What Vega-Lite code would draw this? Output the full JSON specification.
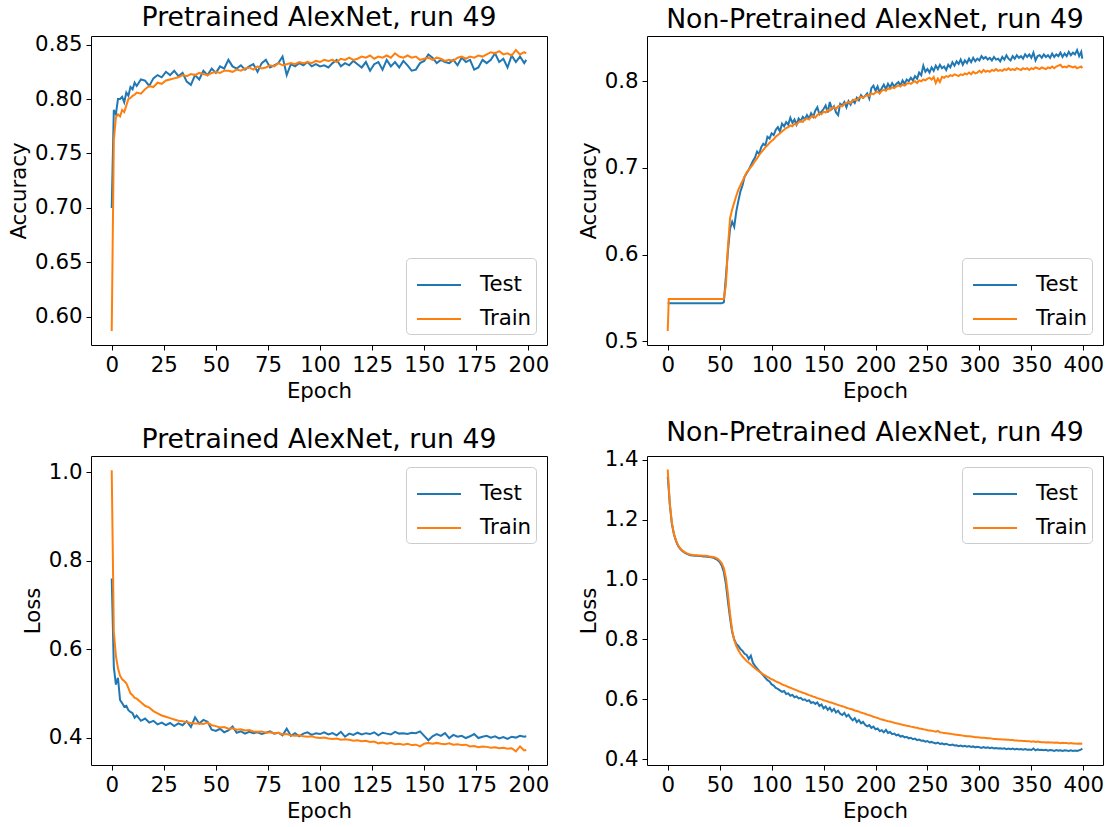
{
"$schema":"https://vega.github.io/schema/vega-lite/v6.json",
"padding":{"left":8,"top":4,"right":4,"bottom":4},
"background":"white",
"bounds":"flush",
"columns":2,
"spacing":{"row":111,"column":100},
"config":{
"font":"DejaVu Sans",
"view":{"stroke":"black","strokeWidth":1},
"axis":{"labelFont":"DejaVu Sans","labelFontSize":21.3,"labelColor":"black","titleFont":"DejaVu Sans","titleFontSize":21.3,"titleFontWeight":"normal","titleColor":"black","tickColor":"black","tickSize":5,"tickWidth":1,"domain":false,"grid":false,"labelPadding":4,"titlePadding":5,"labelFlush":false,"labelOverlap":false},
"title":{"font":"DejaVu Sans","fontSize":26.7,"fontWeight":"normal","color":"black","offset":2},
"legend":{"labelFont":"DejaVu Sans","labelFontSize":21.3,"labelColor":"black","symbolType":"stroke","symbolStrokeWidth":2,"symbolSize":1936,"fillColor":"rgba(255,255,255,0.8)","strokeColor":"#cccccc","cornerRadius":4,"padding":4,"offset":11,"labelOffset":18,"symbolOffset":6,"rowPadding":0}
},
"datasets":{
"p":[
{"e":0,"ta":0.700,"ra":0.587,"tl":0.760,"rl":1.005},
{"e":1,"ta":0.790,"ra":0.762,"tl":0.560,"rl":0.640},
{"e":2,"ta":0.786,"ra":0.783,"tl":0.520,"rl":0.585},
{"e":3,"ta":0.800,"ra":0.786,"tl":0.535,"rl":0.557},
{"e":4,"ta":0.800,"ra":0.784,"tl":0.485,"rl":0.540},
{"e":5,"ta":0.802,"ra":0.790,"tl":0.478,"rl":0.532},
{"e":6,"ta":0.797,"ra":0.788,"tl":0.470,"rl":0.528},
{"e":7,"ta":0.806,"ra":0.794,"tl":0.472,"rl":0.523},
{"e":8,"ta":0.803,"ra":0.800,"tl":0.462,"rl":0.512},
{"e":9,"ta":0.811,"ra":0.801,"tl":0.458,"rl":0.500},
{"e":10,"ta":0.809,"ra":0.803,"tl":0.455,"rl":0.496},
{"e":11,"ta":0.815,"ra":0.804,"tl":0.445,"rl":0.490},
{"e":12,"ta":0.812,"ra":0.806,"tl":0.450,"rl":0.488},
{"e":14,"ta":0.818,"ra":0.805,"tl":0.438,"rl":0.480},
{"e":16,"ta":0.817,"ra":0.809,"tl":0.443,"rl":0.472},
{"e":18,"ta":0.812,"ra":0.812,"tl":0.434,"rl":0.468},
{"e":20,"ta":0.819,"ra":0.811,"tl":0.438,"rl":0.460},
{"e":22,"ta":0.822,"ra":0.815,"tl":0.430,"rl":0.455},
{"e":24,"ta":0.820,"ra":0.814,"tl":0.434,"rl":0.450},
{"e":26,"ta":0.825,"ra":0.817,"tl":0.428,"rl":0.447},
{"e":28,"ta":0.822,"ra":0.818,"tl":0.433,"rl":0.444},
{"e":30,"ta":0.826,"ra":0.819,"tl":0.426,"rl":0.441},
{"e":32,"ta":0.821,"ra":0.820,"tl":0.432,"rl":0.438},
{"e":34,"ta":0.824,"ra":0.822,"tl":0.428,"rl":0.437},
{"e":36,"ta":0.816,"ra":0.821,"tl":0.437,"rl":0.435},
{"e":38,"ta":0.813,"ra":0.823,"tl":0.424,"rl":0.433},
{"e":40,"ta":0.822,"ra":0.822,"tl":0.446,"rl":0.432},
{"e":42,"ta":0.818,"ra":0.824,"tl":0.432,"rl":0.432},
{"e":44,"ta":0.826,"ra":0.823,"tl":0.440,"rl":0.431},
{"e":46,"ta":0.822,"ra":0.822,"tl":0.436,"rl":0.434},
{"e":48,"ta":0.828,"ra":0.824,"tl":0.418,"rl":0.428},
{"e":50,"ta":0.824,"ra":0.825,"tl":0.415,"rl":0.426},
{"e":52,"ta":0.830,"ra":0.824,"tl":0.420,"rl":0.423},
{"e":54,"ta":0.828,"ra":0.826,"tl":0.412,"rl":0.424},
{"e":56,"ta":0.836,"ra":0.826,"tl":0.416,"rl":0.420},
{"e":58,"ta":0.830,"ra":0.825,"tl":0.425,"rl":0.421},
{"e":60,"ta":0.828,"ra":0.827,"tl":0.411,"rl":0.418},
{"e":62,"ta":0.831,"ra":0.826,"tl":0.414,"rl":0.419},
{"e":64,"ta":0.827,"ra":0.828,"tl":0.409,"rl":0.416},
{"e":66,"ta":0.830,"ra":0.829,"tl":0.413,"rl":0.417},
{"e":68,"ta":0.832,"ra":0.827,"tl":0.410,"rl":0.414},
{"e":70,"ta":0.825,"ra":0.830,"tl":0.412,"rl":0.413},
{"e":72,"ta":0.833,"ra":0.828,"tl":0.408,"rl":0.414},
{"e":74,"ta":0.836,"ra":0.829,"tl":0.411,"rl":0.411},
{"e":76,"ta":0.829,"ra":0.831,"tl":0.414,"rl":0.412},
{"e":78,"ta":0.831,"ra":0.830,"tl":0.409,"rl":0.410},
{"e":80,"ta":0.833,"ra":0.833,"tl":0.411,"rl":0.411},
{"e":82,"ta":0.839,"ra":0.831,"tl":0.405,"rl":0.407},
{"e":84,"ta":0.822,"ra":0.832,"tl":0.420,"rl":0.408},
{"e":86,"ta":0.832,"ra":0.833,"tl":0.404,"rl":0.405},
{"e":88,"ta":0.830,"ra":0.832,"tl":0.410,"rl":0.404},
{"e":90,"ta":0.833,"ra":0.834,"tl":0.403,"rl":0.405},
{"e":92,"ta":0.831,"ra":0.833,"tl":0.409,"rl":0.403},
{"e":94,"ta":0.834,"ra":0.834,"tl":0.412,"rl":0.402},
{"e":96,"ta":0.830,"ra":0.833,"tl":0.406,"rl":0.403},
{"e":98,"ta":0.832,"ra":0.835,"tl":0.410,"rl":0.400},
{"e":100,"ta":0.830,"ra":0.834,"tl":0.408,"rl":0.399},
{"e":102,"ta":0.831,"ra":0.836,"tl":0.412,"rl":0.400},
{"e":104,"ta":0.829,"ra":0.835,"tl":0.407,"rl":0.398},
{"e":106,"ta":0.833,"ra":0.836,"tl":0.410,"rl":0.397},
{"e":108,"ta":0.836,"ra":0.834,"tl":0.405,"rl":0.398},
{"e":110,"ta":0.830,"ra":0.837,"tl":0.413,"rl":0.395},
{"e":112,"ta":0.833,"ra":0.836,"tl":0.402,"rl":0.396},
{"e":114,"ta":0.831,"ra":0.838,"tl":0.409,"rl":0.395},
{"e":116,"ta":0.835,"ra":0.836,"tl":0.406,"rl":0.393},
{"e":118,"ta":0.832,"ra":0.837,"tl":0.411,"rl":0.394},
{"e":120,"ta":0.829,"ra":0.839,"tl":0.407,"rl":0.392},
{"e":122,"ta":0.834,"ra":0.838,"tl":0.410,"rl":0.393},
{"e":124,"ta":0.826,"ra":0.840,"tl":0.408,"rl":0.390},
{"e":126,"ta":0.832,"ra":0.837,"tl":0.412,"rl":0.391},
{"e":128,"ta":0.834,"ra":0.839,"tl":0.405,"rl":0.387},
{"e":130,"ta":0.827,"ra":0.838,"tl":0.411,"rl":0.389},
{"e":132,"ta":0.836,"ra":0.840,"tl":0.409,"rl":0.386},
{"e":134,"ta":0.830,"ra":0.838,"tl":0.407,"rl":0.388},
{"e":136,"ta":0.834,"ra":0.842,"tl":0.413,"rl":0.385},
{"e":138,"ta":0.829,"ra":0.839,"tl":0.409,"rl":0.386},
{"e":140,"ta":0.835,"ra":0.838,"tl":0.410,"rl":0.384},
{"e":142,"ta":0.831,"ra":0.840,"tl":0.408,"rl":0.386},
{"e":144,"ta":0.826,"ra":0.838,"tl":0.411,"rl":0.383},
{"e":146,"ta":0.827,"ra":0.839,"tl":0.410,"rl":0.384},
{"e":148,"ta":0.833,"ra":0.836,"tl":0.414,"rl":0.380},
{"e":150,"ta":0.835,"ra":0.837,"tl":0.404,"rl":0.386},
{"e":152,"ta":0.841,"ra":0.838,"tl":0.394,"rl":0.388},
{"e":154,"ta":0.838,"ra":0.836,"tl":0.403,"rl":0.386},
{"e":156,"ta":0.833,"ra":0.838,"tl":0.408,"rl":0.388},
{"e":158,"ta":0.836,"ra":0.837,"tl":0.404,"rl":0.386},
{"e":160,"ta":0.834,"ra":0.835,"tl":0.410,"rl":0.385},
{"e":162,"ta":0.833,"ra":0.836,"tl":0.399,"rl":0.387},
{"e":164,"ta":0.836,"ra":0.835,"tl":0.406,"rl":0.384},
{"e":166,"ta":0.831,"ra":0.838,"tl":0.402,"rl":0.385},
{"e":168,"ta":0.838,"ra":0.839,"tl":0.404,"rl":0.383},
{"e":170,"ta":0.834,"ra":0.837,"tl":0.399,"rl":0.384},
{"e":172,"ta":0.836,"ra":0.839,"tl":0.403,"rl":0.380},
{"e":174,"ta":0.827,"ra":0.838,"tl":0.408,"rl":0.381},
{"e":176,"ta":0.829,"ra":0.840,"tl":0.399,"rl":0.378},
{"e":178,"ta":0.836,"ra":0.839,"tl":0.402,"rl":0.380},
{"e":180,"ta":0.833,"ra":0.841,"tl":0.404,"rl":0.379},
{"e":182,"ta":0.836,"ra":0.843,"tl":0.400,"rl":0.377},
{"e":184,"ta":0.842,"ra":0.842,"tl":0.403,"rl":0.378},
{"e":186,"ta":0.834,"ra":0.844,"tl":0.398,"rl":0.376},
{"e":188,"ta":0.837,"ra":0.841,"tl":0.401,"rl":0.377},
{"e":190,"ta":0.829,"ra":0.842,"tl":0.397,"rl":0.375},
{"e":192,"ta":0.840,"ra":0.840,"tl":0.402,"rl":0.376},
{"e":194,"ta":0.834,"ra":0.845,"tl":0.400,"rl":0.369},
{"e":196,"ta":0.839,"ra":0.841,"tl":0.404,"rl":0.380},
{"e":198,"ta":0.833,"ra":0.843,"tl":0.402,"rl":0.371},
{"e":199,"ta":0.836,"ra":0.842,"tl":0.403,"rl":0.372}
],
"n":[
{"e":0,"ta":0.544,"ra":0.512,"tl":1.343,"rl":1.367},
{"e":1,"ta":0.544,"ra":0.549,"tl":1.300,"rl":1.310},
{"e":2,"ta":0.544,"ra":0.549,"tl":1.250,"rl":1.255},
{"e":4,"ta":0.544,"ra":0.549,"tl":1.185,"rl":1.190},
{"e":6,"ta":0.544,"ra":0.549,"tl":1.150,"rl":1.152},
{"e":8,"ta":0.544,"ra":0.549,"tl":1.128,"rl":1.130},
{"e":10,"ta":0.544,"ra":0.549,"tl":1.112,"rl":1.114},
{"e":12,"ta":0.544,"ra":0.549,"tl":1.102,"rl":1.104},
{"e":14,"ta":0.544,"ra":0.549,"tl":1.095,"rl":1.097},
{"e":16,"ta":0.544,"ra":0.549,"tl":1.090,"rl":1.092},
{"e":18,"ta":0.544,"ra":0.549,"tl":1.086,"rl":1.088},
{"e":20,"ta":0.544,"ra":0.549,"tl":1.083,"rl":1.085},
{"e":22,"ta":0.544,"ra":0.549,"tl":1.081,"rl":1.083},
{"e":24,"ta":0.544,"ra":0.549,"tl":1.080,"rl":1.082},
{"e":26,"ta":0.544,"ra":0.549,"tl":1.079,"rl":1.081},
{"e":28,"ta":0.544,"ra":0.549,"tl":1.079,"rl":1.081},
{"e":30,"ta":0.544,"ra":0.549,"tl":1.078,"rl":1.080},
{"e":32,"ta":0.544,"ra":0.549,"tl":1.078,"rl":1.080},
{"e":34,"ta":0.544,"ra":0.549,"tl":1.077,"rl":1.079},
{"e":36,"ta":0.544,"ra":0.549,"tl":1.077,"rl":1.079},
{"e":38,"ta":0.544,"ra":0.549,"tl":1.076,"rl":1.078},
{"e":40,"ta":0.544,"ra":0.549,"tl":1.075,"rl":1.077},
{"e":42,"ta":0.544,"ra":0.549,"tl":1.074,"rl":1.076},
{"e":44,"ta":0.544,"ra":0.549,"tl":1.072,"rl":1.075},
{"e":46,"ta":0.544,"ra":0.549,"tl":1.069,"rl":1.073},
{"e":48,"ta":0.544,"ra":0.549,"tl":1.065,"rl":1.069},
{"e":50,"ta":0.544,"ra":0.549,"tl":1.058,"rl":1.063},
{"e":52,"ta":0.544,"ra":0.549,"tl":1.046,"rl":1.054},
{"e":54,"ta":0.545,"ra":0.549,"tl":1.025,"rl":1.038},
{"e":56,"ta":0.575,"ra":0.565,"tl":0.985,"rl":1.005},
{"e":58,"ta":0.605,"ra":0.610,"tl":0.925,"rl":0.950},
{"e":60,"ta":0.630,"ra":0.642,"tl":0.870,"rl":0.885},
{"e":62,"ta":0.638,"ra":0.652,"tl":0.825,"rl":0.830},
{"e":64,"ta":0.632,"ra":0.660,"tl":0.800,"rl":0.798},
{"e":66,"ta":0.650,"ra":0.668,"tl":0.785,"rl":0.778},
{"e":68,"ta":0.662,"ra":0.675,"tl":0.778,"rl":0.764},
{"e":70,"ta":0.673,"ra":0.680,"tl":0.768,"rl":0.752},
{"e":72,"ta":0.680,"ra":0.685,"tl":0.762,"rl":0.743},
{"e":74,"ta":0.690,"ra":0.690,"tl":0.752,"rl":0.735},
{"e":76,"ta":0.694,"ra":0.695,"tl":0.748,"rl":0.728},
{"e":78,"ta":0.698,"ra":0.698,"tl":0.735,"rl":0.722},
{"e":80,"ta":0.703,"ra":0.701,"tl":0.746,"rl":0.716},
{"e":82,"ta":0.708,"ra":0.704,"tl":0.722,"rl":0.710},
{"e":84,"ta":0.712,"ra":0.708,"tl":0.712,"rl":0.704},
{"e":86,"ta":0.719,"ra":0.711,"tl":0.703,"rl":0.698},
{"e":88,"ta":0.716,"ra":0.715,"tl":0.695,"rl":0.693},
{"e":90,"ta":0.724,"ra":0.718,"tl":0.688,"rl":0.688},
{"e":92,"ta":0.728,"ra":0.721,"tl":0.680,"rl":0.683},
{"e":94,"ta":0.726,"ra":0.724,"tl":0.672,"rl":0.679},
{"e":96,"ta":0.736,"ra":0.726,"tl":0.664,"rl":0.675},
{"e":98,"ta":0.734,"ra":0.729,"tl":0.660,"rl":0.671},
{"e":100,"ta":0.740,"ra":0.731,"tl":0.650,"rl":0.667},
{"e":102,"ta":0.738,"ra":0.733,"tl":0.646,"rl":0.664},
{"e":104,"ta":0.744,"ra":0.736,"tl":0.638,"rl":0.660},
{"e":106,"ta":0.747,"ra":0.738,"tl":0.635,"rl":0.657},
{"e":108,"ta":0.742,"ra":0.740,"tl":0.630,"rl":0.654},
{"e":110,"ta":0.751,"ra":0.742,"tl":0.625,"rl":0.650},
{"e":112,"ta":0.748,"ra":0.744,"tl":0.628,"rl":0.647},
{"e":114,"ta":0.753,"ra":0.746,"tl":0.618,"rl":0.645},
{"e":116,"ta":0.750,"ra":0.747,"tl":0.620,"rl":0.641},
{"e":118,"ta":0.758,"ra":0.749,"tl":0.612,"rl":0.639},
{"e":120,"ta":0.752,"ra":0.748,"tl":0.615,"rl":0.636},
{"e":122,"ta":0.756,"ra":0.751,"tl":0.607,"rl":0.633},
{"e":124,"ta":0.750,"ra":0.750,"tl":0.610,"rl":0.631},
{"e":126,"ta":0.757,"ra":0.753,"tl":0.603,"rl":0.627},
{"e":128,"ta":0.754,"ra":0.754,"tl":0.605,"rl":0.625},
{"e":130,"ta":0.759,"ra":0.753,"tl":0.598,"rl":0.622},
{"e":132,"ta":0.756,"ra":0.756,"tl":0.600,"rl":0.620},
{"e":134,"ta":0.761,"ra":0.757,"tl":0.594,"rl":0.617},
{"e":136,"ta":0.757,"ra":0.756,"tl":0.597,"rl":0.614},
{"e":138,"ta":0.763,"ra":0.759,"tl":0.588,"rl":0.612},
{"e":140,"ta":0.759,"ra":0.760,"tl":0.591,"rl":0.609},
{"e":142,"ta":0.766,"ra":0.758,"tl":0.585,"rl":0.607},
{"e":144,"ta":0.770,"ra":0.761,"tl":0.590,"rl":0.604},
{"e":146,"ta":0.762,"ra":0.763,"tl":0.578,"rl":0.602},
{"e":148,"ta":0.765,"ra":0.762,"tl":0.583,"rl":0.600},
{"e":150,"ta":0.768,"ra":0.765,"tl":0.570,"rl":0.597},
{"e":152,"ta":0.772,"ra":0.764,"tl":0.576,"rl":0.595},
{"e":154,"ta":0.764,"ra":0.767,"tl":0.565,"rl":0.593},
{"e":156,"ta":0.776,"ra":0.766,"tl":0.572,"rl":0.590},
{"e":158,"ta":0.768,"ra":0.769,"tl":0.560,"rl":0.589},
{"e":160,"ta":0.771,"ra":0.770,"tl":0.568,"rl":0.586},
{"e":162,"ta":0.764,"ra":0.768,"tl":0.556,"rl":0.584},
{"e":164,"ta":0.761,"ra":0.771,"tl":0.562,"rl":0.581},
{"e":166,"ta":0.774,"ra":0.772,"tl":0.552,"rl":0.579},
{"e":168,"ta":0.772,"ra":0.771,"tl":0.548,"rl":0.577},
{"e":170,"ta":0.776,"ra":0.774,"tl":0.555,"rl":0.575},
{"e":172,"ta":0.770,"ra":0.775,"tl":0.543,"rl":0.572},
{"e":174,"ta":0.777,"ra":0.776,"tl":0.549,"rl":0.570},
{"e":176,"ta":0.773,"ra":0.775,"tl":0.538,"rl":0.568},
{"e":178,"ta":0.778,"ra":0.778,"tl":0.530,"rl":0.566},
{"e":180,"ta":0.775,"ra":0.779,"tl":0.537,"rl":0.563},
{"e":182,"ta":0.781,"ra":0.778,"tl":0.524,"rl":0.561},
{"e":184,"ta":0.778,"ra":0.781,"tl":0.531,"rl":0.559},
{"e":186,"ta":0.784,"ra":0.782,"tl":0.520,"rl":0.556},
{"e":188,"ta":0.781,"ra":0.781,"tl":0.525,"rl":0.554},
{"e":190,"ta":0.783,"ra":0.783,"tl":0.515,"rl":0.552},
{"e":192,"ta":0.786,"ra":0.784,"tl":0.510,"rl":0.549},
{"e":194,"ta":0.780,"ra":0.783,"tl":0.514,"rl":0.547},
{"e":196,"ta":0.792,"ra":0.786,"tl":0.505,"rl":0.545},
{"e":198,"ta":0.795,"ra":0.785,"tl":0.509,"rl":0.542},
{"e":200,"ta":0.789,"ra":0.787,"tl":0.500,"rl":0.540},
{"e":202,"ta":0.794,"ra":0.788,"tl":0.503,"rl":0.538},
{"e":204,"ta":0.787,"ra":0.786,"tl":0.494,"rl":0.535},
{"e":206,"ta":0.792,"ra":0.789,"tl":0.497,"rl":0.533},
{"e":208,"ta":0.796,"ra":0.790,"tl":0.490,"rl":0.531},
{"e":210,"ta":0.791,"ra":0.789,"tl":0.498,"rl":0.529},
{"e":212,"ta":0.797,"ra":0.792,"tl":0.488,"rl":0.527},
{"e":214,"ta":0.793,"ra":0.791,"tl":0.491,"rl":0.526},
{"e":216,"ta":0.798,"ra":0.793,"tl":0.484,"rl":0.524},
{"e":218,"ta":0.794,"ra":0.792,"tl":0.486,"rl":0.522},
{"e":220,"ta":0.797,"ra":0.794,"tl":0.480,"rl":0.520},
{"e":222,"ta":0.799,"ra":0.795,"tl":0.482,"rl":0.519},
{"e":224,"ta":0.795,"ra":0.794,"tl":0.476,"rl":0.517},
{"e":226,"ta":0.801,"ra":0.796,"tl":0.478,"rl":0.515},
{"e":228,"ta":0.797,"ra":0.795,"tl":0.473,"rl":0.514},
{"e":230,"ta":0.802,"ra":0.797,"tl":0.475,"rl":0.512},
{"e":232,"ta":0.800,"ra":0.798,"tl":0.470,"rl":0.511},
{"e":234,"ta":0.804,"ra":0.797,"tl":0.472,"rl":0.509},
{"e":236,"ta":0.801,"ra":0.799,"tl":0.467,"rl":0.508},
{"e":238,"ta":0.806,"ra":0.800,"tl":0.469,"rl":0.506},
{"e":240,"ta":0.803,"ra":0.798,"tl":0.464,"rl":0.505},
{"e":242,"ta":0.810,"ra":0.801,"tl":0.466,"rl":0.503},
{"e":244,"ta":0.807,"ra":0.800,"tl":0.462,"rl":0.502},
{"e":246,"ta":0.818,"ra":0.802,"tl":0.463,"rl":0.500},
{"e":248,"ta":0.811,"ra":0.801,"tl":0.459,"rl":0.499},
{"e":250,"ta":0.814,"ra":0.803,"tl":0.461,"rl":0.497},
{"e":252,"ta":0.810,"ra":0.804,"tl":0.456,"rl":0.496},
{"e":254,"ta":0.816,"ra":0.802,"tl":0.458,"rl":0.495},
{"e":256,"ta":0.812,"ra":0.805,"tl":0.455,"rl":0.494},
{"e":258,"ta":0.818,"ra":0.798,"tl":0.453,"rl":0.492},
{"e":260,"ta":0.814,"ra":0.803,"tl":0.456,"rl":0.495},
{"e":262,"ta":0.819,"ra":0.799,"tl":0.451,"rl":0.490},
{"e":264,"ta":0.815,"ra":0.805,"tl":0.453,"rl":0.489},
{"e":266,"ta":0.817,"ra":0.804,"tl":0.450,"rl":0.488},
{"e":268,"ta":0.813,"ra":0.806,"tl":0.452,"rl":0.487},
{"e":270,"ta":0.819,"ra":0.805,"tl":0.449,"rl":0.486},
{"e":272,"ta":0.816,"ra":0.807,"tl":0.447,"rl":0.485},
{"e":274,"ta":0.822,"ra":0.806,"tl":0.449,"rl":0.484},
{"e":276,"ta":0.818,"ra":0.808,"tl":0.446,"rl":0.483},
{"e":278,"ta":0.823,"ra":0.807,"tl":0.447,"rl":0.482},
{"e":280,"ta":0.820,"ra":0.806,"tl":0.444,"rl":0.481},
{"e":282,"ta":0.825,"ra":0.808,"tl":0.446,"rl":0.480},
{"e":284,"ta":0.819,"ra":0.807,"tl":0.443,"rl":0.479},
{"e":286,"ta":0.824,"ra":0.809,"tl":0.445,"rl":0.478},
{"e":288,"ta":0.821,"ra":0.808,"tl":0.442,"rl":0.477},
{"e":290,"ta":0.826,"ra":0.810,"tl":0.444,"rl":0.477},
{"e":292,"ta":0.822,"ra":0.808,"tl":0.441,"rl":0.476},
{"e":294,"ta":0.827,"ra":0.811,"tl":0.443,"rl":0.475},
{"e":296,"ta":0.823,"ra":0.809,"tl":0.440,"rl":0.474},
{"e":298,"ta":0.826,"ra":0.810,"tl":0.442,"rl":0.474},
{"e":300,"ta":0.824,"ra":0.812,"tl":0.440,"rl":0.473},
{"e":302,"ta":0.829,"ra":0.810,"tl":0.438,"rl":0.472},
{"e":304,"ta":0.826,"ra":0.813,"tl":0.441,"rl":0.472},
{"e":306,"ta":0.828,"ra":0.811,"tl":0.438,"rl":0.471},
{"e":308,"ta":0.825,"ra":0.812,"tl":0.440,"rl":0.470},
{"e":310,"ta":0.827,"ra":0.811,"tl":0.437,"rl":0.470},
{"e":312,"ta":0.824,"ra":0.813,"tl":0.439,"rl":0.469},
{"e":314,"ta":0.828,"ra":0.812,"tl":0.436,"rl":0.468},
{"e":316,"ta":0.825,"ra":0.814,"tl":0.438,"rl":0.468},
{"e":318,"ta":0.826,"ra":0.812,"tl":0.436,"rl":0.467},
{"e":320,"ta":0.823,"ra":0.813,"tl":0.437,"rl":0.467},
{"e":322,"ta":0.828,"ra":0.812,"tl":0.435,"rl":0.466},
{"e":324,"ta":0.825,"ra":0.814,"tl":0.437,"rl":0.466},
{"e":326,"ta":0.830,"ra":0.813,"tl":0.434,"rl":0.465},
{"e":328,"ta":0.826,"ra":0.815,"tl":0.436,"rl":0.465},
{"e":330,"ta":0.824,"ra":0.813,"tl":0.434,"rl":0.464},
{"e":332,"ta":0.829,"ra":0.814,"tl":0.436,"rl":0.464},
{"e":334,"ta":0.826,"ra":0.813,"tl":0.433,"rl":0.463},
{"e":336,"ta":0.830,"ra":0.815,"tl":0.435,"rl":0.463},
{"e":338,"ta":0.827,"ra":0.814,"tl":0.433,"rl":0.462},
{"e":340,"ta":0.829,"ra":0.813,"tl":0.434,"rl":0.462},
{"e":342,"ta":0.826,"ra":0.815,"tl":0.432,"rl":0.461},
{"e":344,"ta":0.831,"ra":0.814,"tl":0.434,"rl":0.461},
{"e":346,"ta":0.828,"ra":0.815,"tl":0.432,"rl":0.460},
{"e":348,"ta":0.831,"ra":0.813,"tl":0.433,"rl":0.460},
{"e":350,"ta":0.827,"ra":0.815,"tl":0.431,"rl":0.459},
{"e":352,"ta":0.833,"ra":0.814,"tl":0.436,"rl":0.460},
{"e":354,"ta":0.824,"ra":0.816,"tl":0.430,"rl":0.458},
{"e":356,"ta":0.829,"ra":0.815,"tl":0.433,"rl":0.459},
{"e":358,"ta":0.830,"ra":0.814,"tl":0.431,"rl":0.458},
{"e":360,"ta":0.827,"ra":0.816,"tl":0.432,"rl":0.457},
{"e":362,"ta":0.831,"ra":0.815,"tl":0.430,"rl":0.457},
{"e":364,"ta":0.828,"ra":0.814,"tl":0.432,"rl":0.456},
{"e":366,"ta":0.830,"ra":0.816,"tl":0.429,"rl":0.457},
{"e":368,"ta":0.827,"ra":0.815,"tl":0.431,"rl":0.456},
{"e":370,"ta":0.832,"ra":0.817,"tl":0.430,"rl":0.456},
{"e":372,"ta":0.828,"ra":0.815,"tl":0.428,"rl":0.455},
{"e":374,"ta":0.831,"ra":0.817,"tl":0.431,"rl":0.456},
{"e":376,"ta":0.829,"ra":0.818,"tl":0.429,"rl":0.455},
{"e":378,"ta":0.833,"ra":0.819,"tl":0.430,"rl":0.454},
{"e":380,"ta":0.828,"ra":0.816,"tl":0.428,"rl":0.455},
{"e":382,"ta":0.832,"ra":0.817,"tl":0.430,"rl":0.454},
{"e":384,"ta":0.829,"ra":0.816,"tl":0.429,"rl":0.454},
{"e":386,"ta":0.834,"ra":0.818,"tl":0.428,"rl":0.453},
{"e":388,"ta":0.830,"ra":0.817,"tl":0.430,"rl":0.454},
{"e":390,"ta":0.833,"ra":0.816,"tl":0.428,"rl":0.453},
{"e":392,"ta":0.831,"ra":0.817,"tl":0.429,"rl":0.453},
{"e":394,"ta":0.836,"ra":0.815,"tl":0.428,"rl":0.452},
{"e":396,"ta":0.829,"ra":0.816,"tl":0.430,"rl":0.453},
{"e":398,"ta":0.834,"ra":0.817,"tl":0.433,"rl":0.452},
{"e":399,"ta":0.826,"ra":0.815,"tl":0.436,"rl":0.453}
]
},
"resolve":{"scale":{"color":"independent"},"legend":{"color":"independent"}},
"concat":[
{"width":456,"height":309,"title":"Pretrained AlexNet, run 49","data":{"name":"p"},
"transform":[{"fold":["ta","ra"],"as":["s","v"]}],
"mark":{"type":"line","strokeWidth":2},
"encoding":{
"x":{"field":"e","type":"quantitative","scale":{"domain":[-9.95,208.95],"nice":false,"zero":false},"axis":{"title":"Epoch","values":[0,25,50,75,100,125,150,175,200]}},
"y":{"field":"v","type":"quantitative","scale":{"domain":[0.5741,0.8579],"nice":false,"zero":false},"axis":{"title":"Accuracy","values":[0.6,0.65,0.7,0.75,0.8,0.85],"format":".2f"}},
"color":{"field":"s","type":"nominal","scale":{"domain":["ta","ra"],"range":["#1f77b4","#ff7f0e"]},"legend":{"title":null,"orient":"bottom-right","labelExpr":"substring(datum.label,0,1)=='t' ? 'Test' : 'Train'"}}
}},
{"width":456,"height":309,"title":"Non-Pretrained AlexNet, run 49","data":{"name":"n"},
"transform":[{"fold":["ta","ra"],"as":["s","v"]}],
"mark":{"type":"line","strokeWidth":2},
"encoding":{
"x":{"field":"e","type":"quantitative","scale":{"domain":[-19.95,418.95],"nice":false,"zero":false},"axis":{"title":"Epoch","values":[0,50,100,150,200,250,300,350,400]}},
"y":{"field":"v","type":"quantitative","scale":{"domain":[0.4958,0.8522],"nice":false,"zero":false},"axis":{"title":"Accuracy","values":[0.5,0.6,0.7,0.8],"format":".1f"}},
"color":{"field":"s","type":"nominal","scale":{"domain":["ta","ra"],"range":["#1f77b4","#ff7f0e"]},"legend":{"title":null,"orient":"bottom-right","labelExpr":"substring(datum.label,0,1)=='t' ? 'Test' : 'Train'"}}
}},
{"width":456,"height":309,"title":"Pretrained AlexNet, run 49","data":{"name":"p"},
"transform":[{"fold":["tl","rl"],"as":["s","v"]}],
"mark":{"type":"line","strokeWidth":2},
"encoding":{
"x":{"field":"e","type":"quantitative","scale":{"domain":[-9.95,208.95],"nice":false,"zero":false},"axis":{"title":"Epoch","values":[0,25,50,75,100,125,150,175,200]}},
"y":{"field":"v","type":"quantitative","scale":{"domain":[0.338,1.037],"nice":false,"zero":false},"axis":{"title":"Loss","values":[0.4,0.6,0.8,1.0],"format":".1f"}},
"color":{"field":"s","type":"nominal","scale":{"domain":["tl","rl"],"range":["#1f77b4","#ff7f0e"]},"legend":{"title":null,"orient":"top-right","labelExpr":"substring(datum.label,0,1)=='t' ? 'Test' : 'Train'"}}
}},
{"width":456,"height":309,"title":"Non-Pretrained AlexNet, run 49","data":{"name":"n"},
"transform":[{"fold":["tl","rl"],"as":["s","v"]}],
"mark":{"type":"line","strokeWidth":2},
"encoding":{
"x":{"field":"e","type":"quantitative","scale":{"domain":[-19.95,418.95],"nice":false,"zero":false},"axis":{"title":"Epoch","values":[0,50,100,150,200,250,300,350,400]}},
"y":{"field":"v","type":"quantitative","scale":{"domain":[0.381,1.412],"nice":false,"zero":false},"axis":{"title":"Loss","values":[0.4,0.6,0.8,1.0,1.2,1.4],"format":".1f"}},
"color":{"field":"s","type":"nominal","scale":{"domain":["tl","rl"],"range":["#1f77b4","#ff7f0e"]},"legend":{"title":null,"orient":"top-right","labelExpr":"substring(datum.label,0,1)=='t' ? 'Test' : 'Train'"}}
}}
]
}
